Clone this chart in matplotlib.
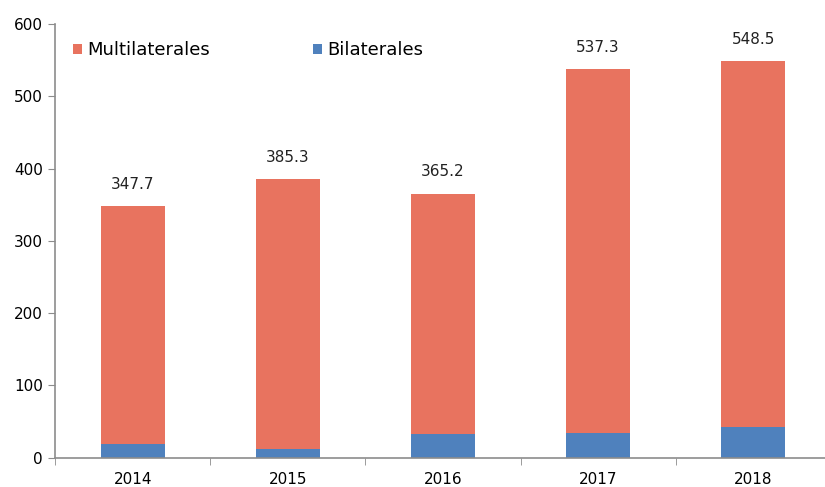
import matplotlib
matplotlib.use('Agg')
import matplotlib.pyplot as plt
import numpy as np

plt.rcParams['font.family'] = ['DejaVu Sans']

years = ['2014', '2015', '2016', '2017', '2018']
totals = [347.7, 385.3, 365.2, 537.3, 548.5]
bilaterales = [19.0, 11.5, 32.5, 34.0, 42.5]
multilaterales = [t - b for t, b in zip(totals, bilaterales)]

c_multi = '#E8735F'
c_bi = '#4F81BD'
axis_color = '#8c8c8c'

fig = plt.figure(figsize=(8.25, 4.87), dpi=100)
ax = fig.add_axes([0.067, 0.06, 0.94, 0.891])

x = np.arange(len(years))
w = 0.41
ax.bar(x, bilaterales, w, color=c_bi, label='Bilaterales', zorder=2)
ax.bar(x, multilaterales, w, bottom=bilaterales, color=c_multi, label='Multilaterales', zorder=2)

for xi, t in zip(x, totals):
    ax.text(xi, t + 20, f'{t:.1f}', ha='center', va='bottom', fontsize=11, color='#222222')

ax.set_xlim(-0.5, len(years) - 0.5)
ax.set_ylim(0, 600)
ax.set_yticks(range(0, 601, 100))
ax.set_xticks(x)
ax.set_xticklabels(years)
ax.set_xticks(np.arange(-0.5, len(years), 1), minor=True)
ax.tick_params(axis='x', which='major', length=0, pad=10, labelsize=11)
ax.tick_params(axis='x', which='minor', length=5, color=axis_color, direction='out')
ax.tick_params(axis='y', length=5, color=axis_color, direction='out', labelsize=11, pad=4)

for s in ['top', 'right']:
    ax.spines[s].set_visible(False)
for s in ['left', 'bottom']:
    ax.spines[s].set_color(axis_color)
    ax.spines[s].set_linewidth(1.2)

handles, labels = ax.get_legend_handles_labels()
leg = ax.legend([handles[1], handles[0]], [labels[1], labels[0]], loc='upper left',
                bbox_to_anchor=(0.002, 0.997), ncol=2, frameon=False, fontsize=13,
                handlelength=0.5, handleheight=0.5, handletextpad=0.3, columnspacing=5.7)

fig.savefig('out.png', dpi=100)
